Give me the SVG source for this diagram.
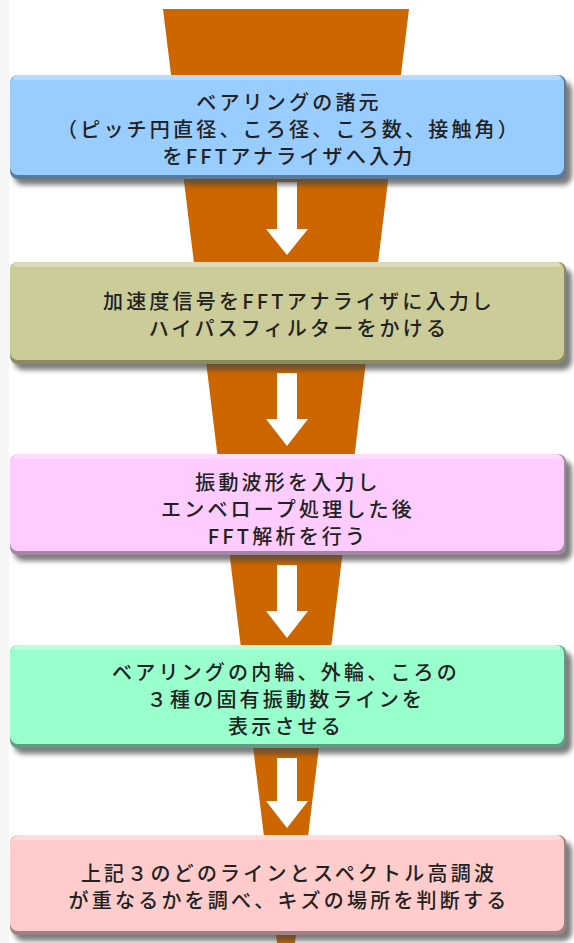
<svg xmlns="http://www.w3.org/2000/svg" width="574" height="943" viewBox="0 0 574 943">
<style>
  .t { font-family: "Noto Sans CJK JP", "Noto Sans", sans-serif; font-size: 20px; font-weight: 500; fill: #222; text-anchor: middle; letter-spacing: 3.2px; }
  .hl { fill: #ffffff; opacity: 0.3; }
  .arrow { fill: #ffffff; }
</style>
<defs>
  <filter id="sh" x="-5%" y="-20%" width="115%" height="150%">
    <feGaussianBlur stdDeviation="2.5"/>
  </filter>
</defs>
<rect x="0" y="0" width="574" height="943" fill="#ffffff"/>
<rect x="0" y="0" width="9" height="943" fill="#f6f6f6"/>
<g id="connectors">
  <polygon points="163,9 409,9 295,943 277,943" fill="#cc6600"/>
  <path class="arrow" d="M277,182 H297 V229 H308 L287,255 L266,229 H277 Z"/>
  <path class="arrow" d="M277,373 H297 V419 H308 L287,446 L266,419 H277 Z"/>
  <path class="arrow" d="M277,565 H297 V611 H308 L287,638 L266,611 H277 Z"/>
  <path class="arrow" d="M277,758 H297 V801 H308 L287,828 L266,801 H277 Z"/>
</g>
<g id="n1">
  <rect x="14" y="81" width="558" height="104" rx="9" fill="#444" opacity="0.7" filter="url(#sh)"/>
  <rect x="10" y="75" width="556" height="104" rx="8" fill="#5b7a99"/>
  <rect x="10" y="75" width="554" height="100" rx="8" fill="#99ccff"/>
  <rect x="14" y="75" width="546" height="5" rx="2" class="hl"/>
  <text class="t" x="289" y="110">ベアリングの諸元</text>
  <text class="t" x="289" y="137">（ピッチ円直径、ころ径、ころ数、接触角）</text>
  <text class="t" x="289" y="164">をFFTアナライザへ入力</text>
</g>
<g id="n2">
  <rect x="14" y="268" width="558" height="102" rx="9" fill="#444" opacity="0.7" filter="url(#sh)"/>
  <rect x="10" y="262" width="556" height="102" rx="8" fill="#8a8a60"/>
  <rect x="10" y="262" width="554" height="98" rx="8" fill="#cccc99"/>
  <rect x="14" y="262" width="546" height="5" rx="2" class="hl"/>
  <text class="t" x="299" y="309">加速度信号をFFTアナライザに入力し</text>
  <text class="t" x="299" y="336">ハイパスフィルターをかける</text>
</g>
<g id="n3">
  <rect x="14" y="460" width="558" height="101" rx="9" fill="#444" opacity="0.7" filter="url(#sh)"/>
  <rect x="10" y="454" width="556" height="101" rx="8" fill="#a088a0"/>
  <rect x="10" y="454" width="554" height="97" rx="8" fill="#ffccff"/>
  <rect x="14" y="454" width="546" height="5" rx="2" class="hl"/>
  <text class="t" x="288" y="490">振動波形を入力し</text>
  <text class="t" x="288" y="517">エンベロープ処理した後</text>
  <text class="t" x="288" y="544">FFT解析を行う</text>
</g>
<g id="n4">
  <rect x="14" y="651" width="558" height="103" rx="9" fill="#444" opacity="0.7" filter="url(#sh)"/>
  <rect x="10" y="645" width="556" height="103" rx="8" fill="#5f9c80"/>
  <rect x="10" y="645" width="554" height="99" rx="8" fill="#99ffcc"/>
  <rect x="14" y="645" width="546" height="5" rx="2" class="hl"/>
  <text class="t" x="286" y="680">ベアリングの内輪、外輪、ころの</text>
  <text class="t" x="286" y="707">３種の固有振動数ラインを</text>
  <text class="t" x="286" y="734">表示させる</text>
</g>
<g id="n5">
  <rect x="14" y="841" width="558" height="100" rx="9" fill="#444" opacity="0.7" filter="url(#sh)"/>
  <rect x="10" y="835" width="556" height="100" rx="8" fill="#a08080"/>
  <rect x="10" y="835" width="554" height="96" rx="8" fill="#ffcccc"/>
  <rect x="14" y="835" width="546" height="5" rx="2" class="hl"/>
  <text class="t" x="289" y="881">上記３のどのラインとスペクトル高調波</text>
  <text class="t" x="289" y="908">が重なるかを調べ、キズの場所を判断する</text>
</g>
</svg>
